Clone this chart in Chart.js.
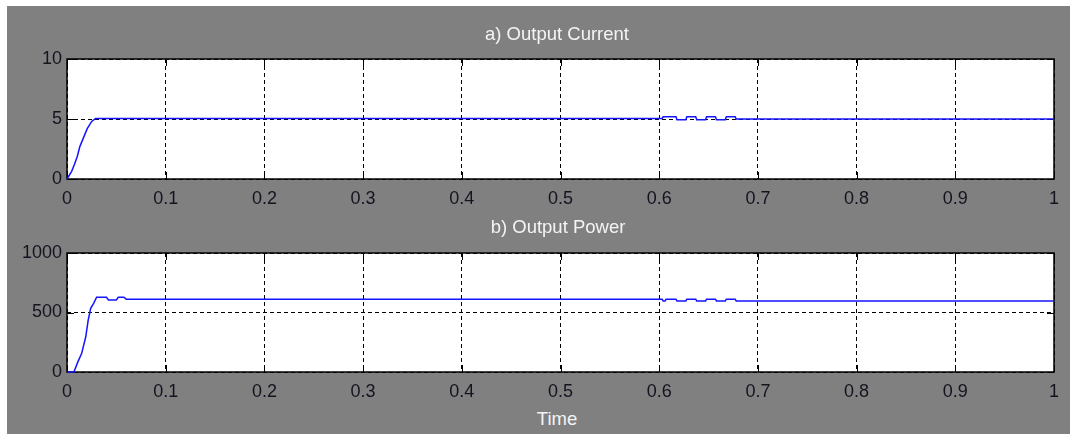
<!DOCTYPE html>
<html>
<head>
<meta charset="utf-8">
<script src="https://cdn.jsdelivr.net/npm/chart.js@4.4.1/dist/chart.umd.min.js"></script>
<style>
  html, body { margin: 0; padding: 0; background: #fff; }
  #scope { position: absolute; left: 7px; top: 6px; width: 1063px; height: 428px; background: #808080; }
  canvas { position: absolute; left: 0; }
  .lbl { position: absolute; color: #f4f4f4; font: 18.5px "Liberation Sans", Arial, sans-serif; line-height: 18px; white-space: nowrap; transform: translateX(-50%); }
</style>
</head>
<body>
<div id="scope"></div>
<canvas id="currentChart" width="1070" height="215" style="top:0"></canvas>
<canvas id="powerChart" width="1070" height="193" style="top:215px"></canvas>
<div class="lbl" style="left:557px; top:25px">a) Output Current</div>
<div class="lbl" style="left:558px; top:218px">b) Output Power</div>
<div class="lbl" style="left:557px; top:410px">Time</div>
<script>
// x axis ticks (seconds)
const timeTicks = [0, 0.1, 0.2, 0.3, 0.4, 0.5, 0.6, 0.7, 0.8, 0.9, 1];
const timeTickLabels = ['0', '0.1', '0.2', '0.3', '0.4', '0.5', '0.6', '0.7', '0.8', '0.9', '1'];

// a) output current
const currentTicks = [0, 5, 10];
const currentTime = [0, 0.0047, 0.0075, 0.0104, 0.013, 0.0155, 0.018, 0.0205, 0.025, 0.029,
  0.603, 0.604, 0.617, 0.618, 0.627, 0.628, 0.637, 0.638, 0.647, 0.648, 0.657, 0.658, 0.667, 0.668, 0.677, 0.678, 1];
const current = [0, 0.64, 1.2, 1.88, 2.7, 3.2, 3.7, 4.2, 4.8, 5.05,
  5.05, 5.18, 5.18, 4.94, 4.94, 5.18, 5.18, 4.94, 4.94, 5.18, 5.18, 4.94, 4.94, 5.18, 5.18, 5.0, 5.0];

// b) output power
const powerTicks = [0, 500, 1000];
const powerTime = [0, 0.007, 0.011, 0.0148, 0.019, 0.0215, 0.024, 0.027, 0.030, 0.040, 0.042, 0.050, 0.052, 0.0576, 0.060,
  0.603, 0.604, 0.606, 0.607, 0.617, 0.618, 0.627, 0.628, 0.637, 0.638, 0.647, 0.648, 0.657, 0.658, 0.667, 0.668, 0.677, 0.678, 1];
const power = [0, 0, 85, 155, 296, 437, 535, 577, 628, 628, 605, 605, 628, 628, 612,
  612, 597, 597, 612, 612, 597, 597, 612, 612, 597, 597, 612, 612, 597, 597, 612, 612, 597, 597];

const tickFont = { family: '"Liberation Sans", Arial, sans-serif', size: 18 };

// white plot box, solid frame and inward ticks like a scope window
const scopeFrame = {
  id: 'scopeFrame',
  beforeDraw(chart) {
    const { ctx, chartArea: a } = chart;
    ctx.save();
    ctx.fillStyle = '#fff';
    ctx.fillRect(a.left, a.top, a.right - a.left, a.bottom - a.top);
    ctx.restore();
  },
  beforeDatasetsDraw(chart) {
    const { ctx, chartArea: a, scales } = chart;
    const len = 7;
    ctx.save();
    ctx.strokeStyle = '#000';
    ctx.lineWidth = 1;
    ctx.setLineDash([]);
    ctx.beginPath();
    scales.x.ticks.forEach(t => {
      const px = Math.round(scales.x.getPixelForValue(t.value)) + 0.5;
      ctx.moveTo(px, a.bottom); ctx.lineTo(px, a.bottom - len);
      ctx.moveTo(px, a.top); ctx.lineTo(px, a.top + len);
    });
    scales.y.ticks.forEach(t => {
      const py = Math.round(scales.y.getPixelForValue(t.value)) + 0.5;
      ctx.moveTo(a.left, py); ctx.lineTo(a.left + len, py);
      ctx.moveTo(a.right, py); ctx.lineTo(a.right - len, py);
    });
    ctx.stroke();
    ctx.lineWidth = 1.5;
    ctx.strokeRect(a.left, a.top, a.right - a.left, a.bottom - a.top);
    ctx.restore();
  }
};

function makeScope(id, times, values, yTicks, topPad) {
  const points = times.map((t, i) => ({ x: t, y: values[i] }));
  return new Chart(document.getElementById(id), {
    type: 'line',
    data: {
      datasets: [{
        data: points,
        borderColor: '#1414ff',
        borderWidth: 1.5,
        pointRadius: 0,
        tension: 0,
        fill: false,
        clip: 3
      }]
    },
    options: {
      responsive: false,
      animation: false,
      devicePixelRatio: 1,
      layout: { padding: { top: topPad, right: 16, bottom: 0, left: 0 } },
      plugins: { legend: { display: false }, tooltip: { enabled: false } },
      scales: {
        x: {
          type: 'linear',
          min: timeTicks[0],
          max: timeTicks[timeTicks.length - 1],
          afterBuildTicks: s => { s.ticks = timeTicks.map(v => ({ value: v })); },
          afterFit: s => { s.height = 36; },
          ticks: {
            color: '#141420',
            font: tickFont,
            padding: 9,
            maxRotation: 0,
            autoSkip: false,
            callback: (v, i) => timeTickLabels[i]
          },
          grid: { color: '#000', lineWidth: 1, drawTicks: false },
          border: { display: false, dash: [4, 3] }
        },
        y: {
          min: yTicks[0],
          max: yTicks[yTicks.length - 1],
          afterBuildTicks: s => { s.ticks = yTicks.map(v => ({ value: v })); },
          afterFit: s => { s.width = 67; },
          ticks: {
            color: '#141420',
            font: tickFont,
            padding: 5,
            callback: (v, i) => String(yTicks[i])
          },
          grid: { color: '#000', lineWidth: 1, drawTicks: false },
          border: { display: false, dash: [4, 3] }
        }
      }
    },
    plugins: [scopeFrame]
  });
}

makeScope('currentChart', currentTime, current, currentTicks, 59);
makeScope('powerChart', powerTime, power, powerTicks, 38);
</script>
</body>
</html>
